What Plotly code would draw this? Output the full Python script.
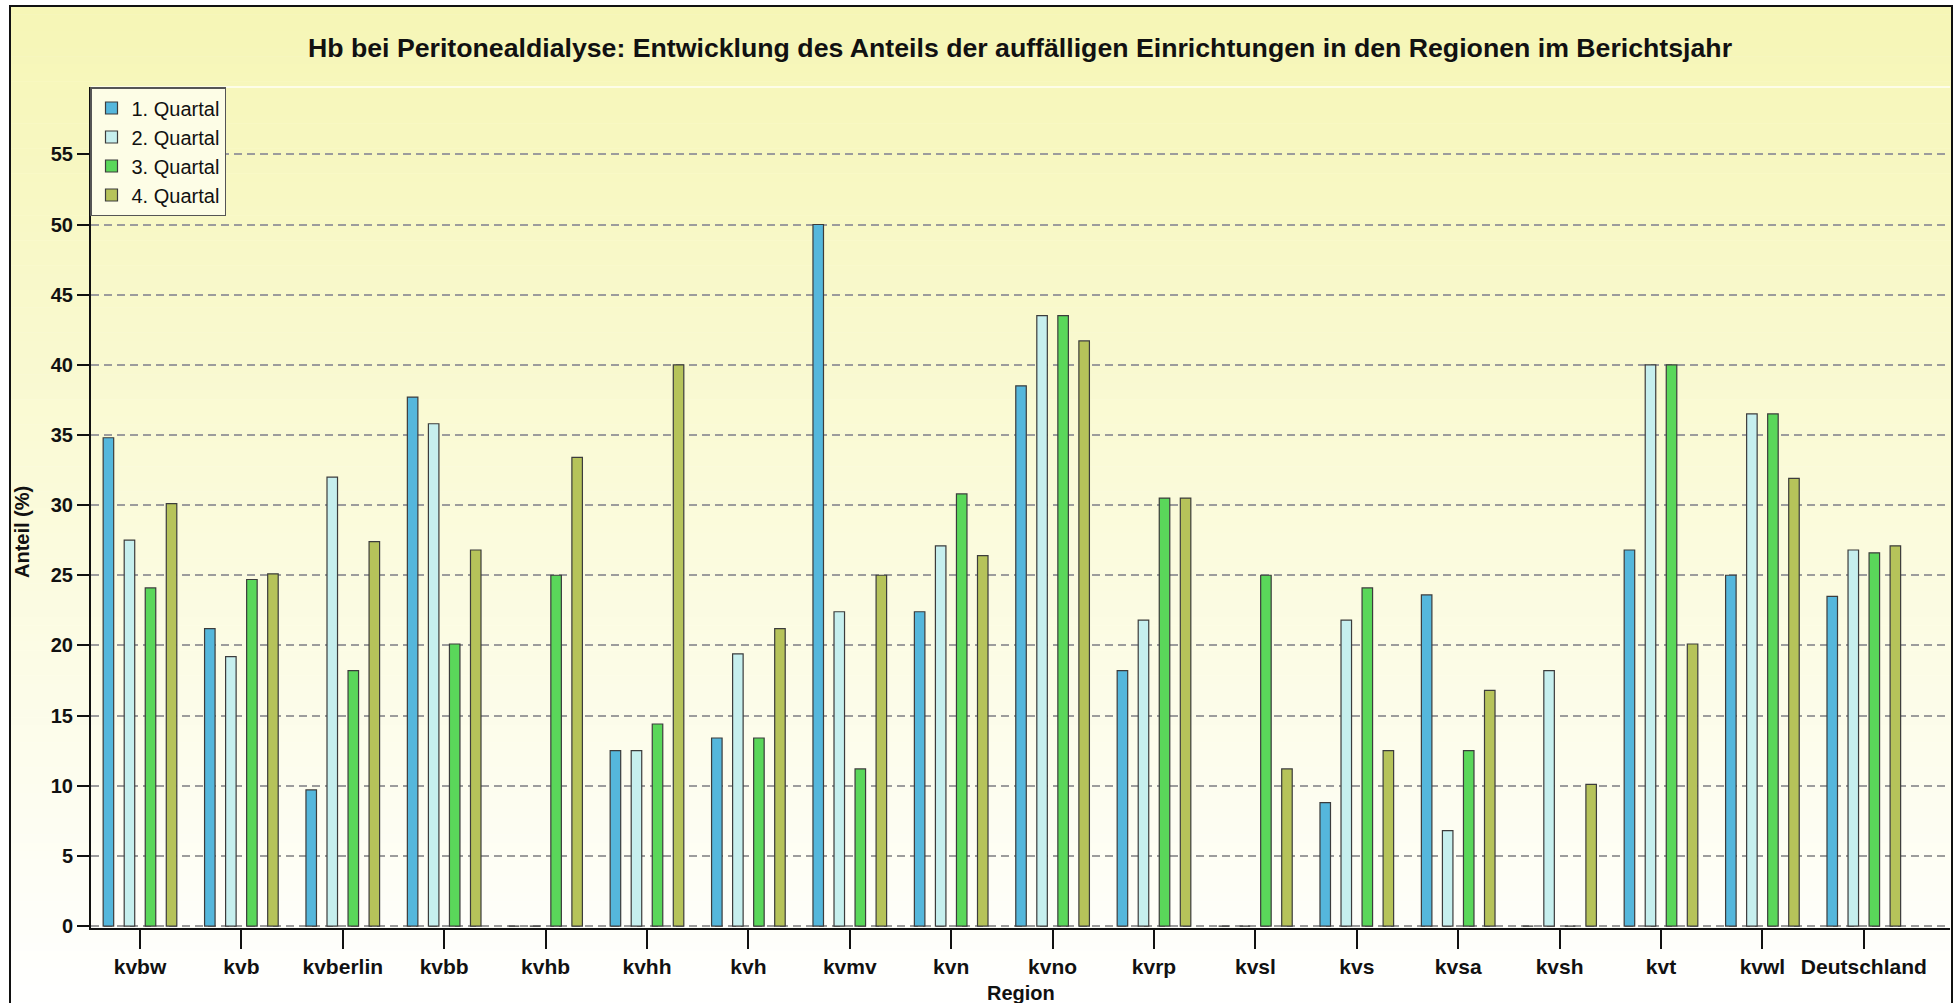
import plotly.graph_objects as go

# ---------------- data ----------------
regions = ["kvbw", "kvb", "kvberlin", "kvbb", "kvhb", "kvhh", "kvh", "kvmv", "kvn",
           "kvno", "kvrp", "kvsl", "kvs", "kvsa", "kvsh", "kvt", "kvwl", "Deutschland"]
q1 = [34.8, 21.2, 9.7, 37.7, 0, 12.5, 13.4, 50.0, 22.4, 38.5, 18.2, 0, 8.8, 23.6, 0, 26.8, 25.0, 23.5]
q2 = [27.5, 19.2, 32.0, 35.8, 0, 12.5, 19.4, 22.4, 27.1, 43.5, 21.8, 0, 21.8, 6.8, 18.2, 40.0, 36.5, 26.8]
q3 = [24.1, 24.7, 18.2, 20.1, 25.0, 14.4, 13.4, 11.2, 30.8, 43.5, 30.5, 25.0, 24.1, 12.5, 0, 40.0, 36.5, 26.6]
q4 = [30.1, 25.1, 27.4, 26.8, 33.4, 40.0, 21.2, 25.0, 26.4, 41.7, 30.5, 11.2, 12.5, 16.8, 10.1, 20.1, 31.9, 27.1]
series_names = ["1. Quartal", "2. Quartal", "3. Quartal", "4. Quartal"]
y_ticks = [0, 5, 10, 15, 20, 25, 30, 35, 40, 45, 50, 55]

title_text = ("Hb bei Peritonealdialyse: Entwicklung des Anteils der auffälligen "
              "Einrichtungen in den Regionen im Berichtsjahr")

# ---------------- style ----------------
W, H = 1954, 1003
L, R, T, B = 91, 1950, 87, 928
FONT = "Liberation Sans, Arial, Helvetica, sans-serif"
colors = ["#55b7dc", "#c6efee", "#5ad75a", "#b6c35a"]


def px_x(x):
    return (x - L) / (R - L)


def px_y(y):
    return (B - y) / (B - T)


fig = go.Figure()
for name, vals, col in zip(series_names, [q1, q2, q3, q4], colors):
    fig.add_trace(go.Bar(
        x=regions, y=vals, name=name,
        marker=dict(color=col, line=dict(color="#3c3c3c", width=1.2)),
    ))

shapes = []
# vertical background gradient (yellow -> white)
top_c = (246, 246, 182)
bot_c = (255, 255, 255)
y_start, y_end = 6, 1010
n = 120
for i in range(n):
    y0 = y_start + (y_end - y_start) * i / n
    y1 = y_start + (y_end - y_start) * (i + 1) / n
    t = i / (n - 1)
    c = tuple(round(a + (b - a) * t) for a, b in zip(top_c, bot_c))
    shapes.append(dict(type="rect", xref="paper", yref="paper", layer="below",
                       x0=px_x(10), x1=px_x(1952), y0=px_y(y1 + 0.5), y1=px_y(y0),
                       fillcolor="rgb(%d,%d,%d)" % c, line=dict(width=0)))
# faint white line at plot top
shapes.append(dict(type="line", xref="paper", yref="paper", layer="below",
                   x0=0, x1=1, y0=1, y1=1, line=dict(color="#fdfde8", width=2)))
# outer frame
shapes.append(dict(type="rect", xref="paper", yref="paper", layer="above",
                   x0=px_x(10), x1=px_x(1952), y0=px_y(1010), y1=px_y(6),
                   line=dict(color="#111111", width=2), fillcolor="rgba(0,0,0,0)"))

fig.update_layout(
    width=W, height=H,
    margin=dict(l=L, r=W - R, t=T, b=H - B, pad=0),
    paper_bgcolor="white",
    plot_bgcolor="rgba(0,0,0,0)",
    barmode="group", bargap=0.17, bargroupgap=0.5,
    font=dict(family=FONT, color="black"),
    title=dict(text=title_text, x=1020 / W, xanchor="center", xref="container",
               y=1 - 48 / H, yanchor="middle", yref="container",
               font=dict(size=26.7, weight="bold", family=FONT, color="#111111")),
    legend=dict(x=px_x(90), y=1, xanchor="left", yanchor="top",
                bgcolor="#fdfde6", bordercolor="#555555", borderwidth=1.5,
                font=dict(size=20, family=FONT, color="#111111"),
                itemwidth=30, tracegroupgap=0),
    shapes=shapes,
    annotations=[
        dict(text="Anteil (%)", xref="paper", yref="paper", x=px_x(22), y=px_y(532),
             textangle=-90, showarrow=False, xanchor="center", yanchor="middle",
             font=dict(size=20, weight="bold", family=FONT, color="#111111")),
        dict(text="Region", xref="paper", yref="paper", x=px_x(1021), y=px_y(993),
             showarrow=False, xanchor="center", yanchor="middle",
             font=dict(size=20, weight="bold", family=FONT, color="#111111")),
    ],
)

fig.update_xaxes(
    range=[-0.483, 17.85], showgrid=False, zeroline=False,
    showline=True, linecolor="#111111", linewidth=2,
    ticks="outside", ticklen=19, tickwidth=1.5, tickcolor="#111111",
    tickfont=dict(size=21, weight="bold", family=FONT, color="#111111"),
)
fig.update_yaxes(
    range=[-0.14, 59.8], tickvals=y_ticks, zeroline=False,
    showgrid=True, gridcolor="#9c9c9c", gridwidth=1.5, griddash="8px,5px",
    showline=True, linecolor="#111111", linewidth=2,
    ticks="outside", ticklen=12, tickwidth=2, tickcolor="#111111",
    tickfont=dict(size=20, weight="bold", family=FONT, color="#111111"),
)

fig.write_html("out.html", config={"displayModeBar": False},
               post_script="document.body.style.margin='0';")
